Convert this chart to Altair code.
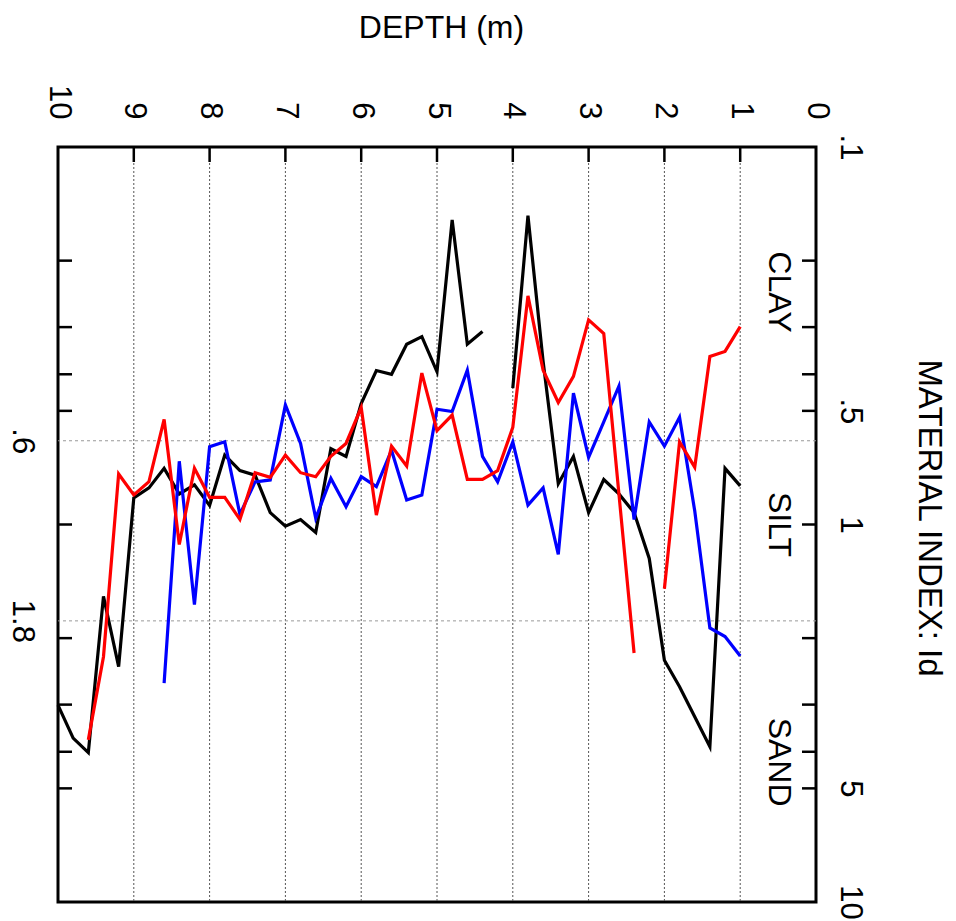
import altair as alt
import pandas as pd

# ---------------- data ----------------
DEPTH = [1.0, 1.2, 1.4, 1.6, 1.8, 2.0, 2.2, 2.4, 2.6, 2.8,
         3.0, 3.2, 3.4, 3.6, 3.8, 4.0, 4.2, 4.4, 4.6, 4.8,
         5.0, 5.2, 5.4, 5.6, 5.8, 6.0, 6.2, 6.4, 6.6, 6.8,
         7.0, 7.2, 7.4, 7.6, 7.8, 8.0, 8.2, 8.4, 8.6, 8.8,
         9.0, 9.2, 9.4, 9.6, 9.8, 10.0]

BLACK_ID = [0.79, 0.71, 3.88, 3.23, 2.69, 2.29, 1.23, 0.93, 0.83, 0.76,
            0.93, 0.66, 0.78, 0.37, 0.152, 0.435, None, 0.308, 0.333, 0.156,
            0.394, 0.318, 0.333, 0.40, 0.391, 0.478, 0.66, 0.63, 1.05, 0.97,
            1.01, 0.93, 0.74, 0.72, 0.655, 0.89, 0.785, 0.83, 0.71, 0.80,
            0.85, 2.38, 1.55, 4.02, 3.68, 3.01]

BLUE_ID = [2.23, 1.98, 1.88, 0.92, 0.52, 0.62, 0.535, 0.97, 0.43, 0.535,
           0.664, 0.449, 1.20, 0.80, 0.888, 0.604, 0.771, 0.66, 0.39, 0.502,
           0.495, 0.835, 0.861, 0.636, 0.794, 0.747, 0.897, 0.755, 0.963, 0.61,
           0.482, 0.762, 0.771, 0.94, 0.604, 0.622, 1.63, 0.68, 2.63]

RED_ID = [0.299, 0.348, 0.359, 0.705, 0.604, 1.48, None, 2.19, 0.83, 0.312,
          0.287, 0.405, 0.475, 0.39, 0.248, 0.553, 0.72, 0.759, 0.759, 0.513,
          0.564, 0.397, 0.70, 0.62, 0.944, 0.49, 0.61, 0.66, 0.747, 0.729,
          0.655, 0.75, 0.729, 0.97, 0.847, 0.847, 0.71, 1.13, 0.527, 0.77,
          0.835, 0.735, 2.24, 3.72]

SERIES_NAMES = ["black", "blue", "red"]
SERIES_COLORS = ["#000000", "#0000ff", "#ff0000"]

DEPTH_LABELS = [0, 1, 2, 3, 4, 5, 6, 7, 8, 9, 10]
DEPTH_GRID = [1, 2, 3, 4, 5, 6, 7, 8, 9]
ID_TICKS = [0.2, 0.3, 0.4, 0.5, 1, 2, 3, 4, 5]
ID_RIGHT_LABELS = [0.1, 0.5, 1, 5, 10]
ID_LEFT_LABELS = [0.6, 1.8]

ZONE_NAMES = ["CLAY", "SILT", "SAND"]
ZONE_ID = [0.242, 1.0, 4.26]
ZONE_DEPTH = [0.62, 0.62, 0.62]

# ---------------- build tables ----------------
def series_frame(name, values):
    rows, seg = [], 0
    for d, v in zip(DEPTH, values):
        if v is None:
            seg += 1
            continue
        rows.append({"series": name, "seg": f"{name}{seg}", "depth": d, "id": v})
    return pd.DataFrame(rows)

frames = {n: series_frame(n, v) for n, v in zip(SERIES_NAMES, [BLACK_ID, BLUE_ID, RED_ID])}

FONT = "Liberation Sans"
W, H = 758, 755

xscale = alt.Scale(domain=[0, 10], reverse=True, nice=False, zero=False)
yscale = alt.Scale(type="log", domain=[0.1, 10], reverse=True, nice=False)
label_expr = "datum.value < 1 ? slice(toString(datum.value), 1) : toString(datum.value)"

top_axis = alt.Axis(
    orient="top", values=DEPTH_LABELS, labelAngle=90, labelAlign="right",
    labelBaseline="middle", labelPadding=28, labelFontSize=31, labelFont=FONT,
    labelColor="black", labelFlush=False, labelOverlap=False, ticks=False,
    domain=False, grid=False, title="DEPTH (m)", titleFont=FONT, titleFontSize=32,
    titleFontWeight="normal", titleColor="black", titleAngle=0, titleAlign="center",
    titleBaseline="alphabetic", titleX=383, titleY=-109.5,
)
right_axis = alt.Axis(
    orient="right", values=ID_RIGHT_LABELS, labelExpr=label_expr, labelAngle=90,
    labelAlign="center", labelBaseline="alphabetic", labelPadding=24,
    labelFontSize=31, labelFont=FONT, labelColor="black", labelFlush=False,
    labelOverlap=False, ticks=False, domain=False, grid=False,
    title="MATERIAL INDEX: Id", titleFont=FONT, titleFontSize=33,
    titleFontWeight="normal", titleColor="black", titleAngle=90,
    titleAlign="center", titleBaseline="alphabetic", titleX=102, titleY=370.5,
)
left_axis = alt.Axis(
    orient="left", values=ID_LEFT_LABELS, labelExpr=label_expr, labelAngle=90,
    labelAlign="center", labelBaseline="alphabetic", labelPadding=46,
    labelFontSize=31, labelFont=FONT, labelColor="black", labelFlush=False,
    labelOverlap=False, ticks=False, domain=False, grid=False, title=None,
)

# gridlines
vgrid = alt.Chart(pd.DataFrame({"d": DEPTH_GRID})).mark_rule(
    color="#555555", strokeWidth=1, strokeDash=[2, 2]
).encode(x=alt.X("d:Q", scale=xscale, axis=top_axis))

hgrid = alt.Chart(pd.DataFrame({"v": ID_LEFT_LABELS})).mark_rule(
    color="#999999", strokeWidth=1, strokeDash=[3, 3]
).encode(y=alt.Y("v:Q", scale=yscale, axis=left_axis))

# inward ticks
top_ticks = alt.Chart(pd.DataFrame({"d": DEPTH_GRID})).mark_rule(
    color="black", strokeWidth=2.5
).encode(x=alt.X("d:Q", scale=xscale, axis=None), y=alt.value(0), y2=alt.value(15))

left_ticks = alt.Chart(pd.DataFrame({"v": ID_TICKS})).mark_rule(
    color="black", strokeWidth=2.5
).encode(y=alt.Y("v:Q", scale=yscale, axis=None), x=alt.value(0), x2=alt.value(14))

right_ticks = alt.Chart(pd.DataFrame({"v": ID_TICKS})).mark_rule(
    color="black", strokeWidth=2.5
).encode(y=alt.Y("v:Q", scale=yscale, axis=right_axis), x=alt.value(W - 14), x2=alt.value(W))

# series lines
line_layers = []
for name, col in zip(SERIES_NAMES, SERIES_COLORS):
    line_layers.append(
        alt.Chart(frames[name]).mark_line(color=col, strokeWidth=3.2).encode(
            x=alt.X("depth:Q", scale=xscale, axis=None),
            y=alt.Y("id:Q", scale=yscale, axis=None),
            detail="seg:N",
            order=alt.Order("depth:Q"),
        )
    )

zones = alt.Chart(pd.DataFrame({"name": ZONE_NAMES, "zid": ZONE_ID, "zd": ZONE_DEPTH})).mark_text(
    angle=90, align="center", baseline="alphabetic", fontSize=32, font=FONT, color="black"
).encode(
    x=alt.X("zd:Q", scale=xscale, axis=None),
    y=alt.Y("zid:Q", scale=yscale, axis=None),
    text="name:N",
)

chart = alt.layer(
    vgrid, hgrid, *line_layers, zones, top_ticks, left_ticks, right_ticks
).resolve_axis(
    x="independent", y="independent"
).properties(
    width=W, height=H,
    background="white",
    padding={"left": 58, "top": 147, "right": 140, "bottom": 19},
    autosize=alt.AutoSizeParams(type="none"),
).configure_view(
    stroke="black", strokeWidth=3
)

chart.save("out.html", embed_options={"renderer": "svg", "actions": False})
